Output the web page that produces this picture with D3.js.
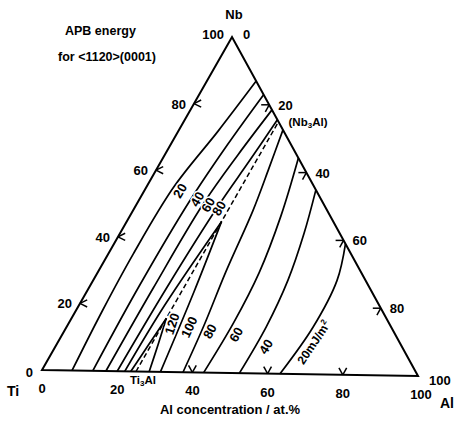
<!DOCTYPE html>
<html><head><meta charset="utf-8">
<script src="https://cdn.jsdelivr.net/npm/d3@7"></script>
<style>
html,body{margin:0;padding:0;background:#fff;}
svg text{font-family:"Liberation Sans",Arial,sans-serif;font-weight:bold;fill:#000;}
</style></head>
<body><svg id="c" width="458" height="423"></svg>
<script>
// ---- data (Al %, Nb %) ----
const edgeTicks = [20, 40, 60, 80];
const leftLabels = [0, 20, 40, 60, 80, 100];     // Nb on Ti–Nb edge
const bottomLabels = [0, 20, 40, 60, 80, 100];   // Al on Ti–Al edge
const rightLabels = [0, 20, 40, 60, 80, 100];    // Al on Nb–Al edge

// contour lines of APB energy (mJ/m2), points as [Al, Nb]
const c20L = [[8,0],[7,18],[6.6,35],[7.2,55],[10.5,72],[13,87]];
const c40L = [[13.5,0],[13,25],[13.5,51],[15,68],[17,83]];
const c60L = [[17,0],[17,25],[17.5,50],[19.3,65],[21.5,78.5]];
const c80L = [[20,0],[20.5,25],[21.8,50],[23.2,63],[24.4,75.6]];
const c100Left = [[22,0],[22.6,20],[25,45]];
const c100Right = [[25,45],[28.3,24],[31.5,0]];
const c120Left = [[23.6,0],[24.3,8],[25,16]];
const c120Right = [[25,16],[26.8,8],[28.5,0]];
const c80R = [[37.5,0],[36,14],[33.7,30],[31.6,48.6],[29.5,61],[27.4,72.6]];
const c60R = [[43,0],[43.4,15],[42.6,30],[39.8,47],[35.7,64.3]];
const c40R = [[52.5,0],[52.6,14],[51.3,28],[48.5,42],[45.1,54.9]];
const c20R = [[63.3,0],[65,14],[64.3,28],[61,39]];
const ridge = [[25,0],[25,75]];  // Ti3Al – Nb3Al

// contour labels: text, [Al, Nb], rotation
const contourLabels = [
  ["20", [9.4,54], -60], ["40", [15.2,51.6], -60], ["60", [18.9,50], -60], ["80", [22.3,49], -60],
  ["120", [27.3,14.4], -72], ["100", [32.3,13.5], -65], ["80", [38.4,12.3], -62],
  ["60", [45.8,11.5], -60], ["40", [55.5,8], -58]
];

const T = {Ti:[42,370], Al:[418,376], Nb:[232,37]};
const sA = d3.scaleLinear().domain([0,100]).range([0,1]);
const sN = d3.scaleLinear().domain([0,100]).range([0,1]);
function P(al, nb){
  const a = sA(al), n = sN(nb);
  return [T.Ti[0] + a*(T.Al[0]-T.Ti[0]) + n*(T.Nb[0]-T.Ti[0]),
          T.Ti[1] + a*(T.Al[1]-T.Ti[1]) + n*(T.Nb[1]-T.Ti[1])];
}
const svg = d3.select("#c");
const line = d3.line().x(d=>P(d[0],d[1])[0]).y(d=>P(d[0],d[1])[1]).curve(d3.curveCatmullRom.alpha(0.5));

// triangle
svg.append("path")
  .attr("d", d3.line()([P(0,0),P(100,0),P(0,100)]) + "Z")
  .attr("fill","none").attr("stroke","#000").attr("stroke-width",2).attr("stroke-linejoin","miter");

// contours
[c20L,c40L,c60L,c80L,c100Left,c100Right,c120Left,c120Right,c80R,c60R,c40R,c20R].forEach(c=>{
  svg.append("path").attr("d", line(c)).attr("fill","none").attr("stroke","#000").attr("stroke-width",1.7);
});
svg.append("path").attr("d", d3.line()(ridge.map(d=>P(d[0],d[1]))))
  .attr("fill","none").attr("stroke","#000").attr("stroke-width",1.5).attr("stroke-dasharray","5,3");

// ticks (short strokes)
const tl = 8;
function stroke(p, dx, dy){
  const L = Math.hypot(dx,dy);
  svg.append("line").attr("x1",p[0]).attr("y1",p[1]).attr("x2",p[0]+dx/L*tl).attr("y2",p[1]+dy/L*tl)
    .attr("stroke","#000").attr("stroke-width",1.5);
}
edgeTicks.forEach(v=>{
  let p = P(0, v);
  stroke(p, 1, -0.5); stroke(p, 1, 0.5);
  if (v !== 20) { p = P(v, 0); stroke(p, -0.55, -1); stroke(p, 0.55, -1); }
  p = P(v, 100 - v); stroke(p, -1, 0); stroke(p, -0.5, 0.9);
});

const FS = 13;
// edge labels
leftLabels.forEach(v=>{
  const p = P(0, v);
  let x = p[0]-8, y = p[1]+5;
  if (v===100){ x = p[0]-8; y = p[1]+2; }
  if (v===0){ x = p[0]-9; y = p[1]+7; }
  svg.append("text").attr("x",x).attr("y",y).attr("text-anchor","end").attr("font-size",FS).text(v);
});
bottomLabels.forEach(v=>{
  const p = P(v, 0);
  svg.append("text").attr("x",p[0]+(v===100?3:0)).attr("y",p[1]+23).attr("text-anchor","middle").attr("font-size",FS).text(v);
});
rightLabels.forEach(v=>{
  const p = P(v, 100-v);
  let x = p[0]+9, y = p[1]+5;
  if (v===0){ x = p[0]+11; y = p[1]+2; }
  if (v===100){ x = p[0]+11; y = p[1]+9; }
  svg.append("text").attr("x",x).attr("y",y).attr("text-anchor","start").attr("font-size",FS).text(v);
});

// vertex names
svg.append("text").attr("x",P(0,100)[0]+2).attr("y",P(0,100)[1]-18).attr("text-anchor","middle").attr("font-size",13).text("Nb");
svg.append("text").attr("x",7).attr("y",396).attr("font-size",14).text("Ti");
svg.append("text").attr("x",440).attr("y",408).attr("font-size",14).text("Al");

// titles
svg.append("text").attr("x",65).attr("y",35).attr("font-size",12.5).text("APB energy");
svg.append("text").attr("x",58).attr("y",61).attr("font-size",12.5).text("for <1120>(0001)");
svg.append("text").attr("x",230).attr("y",414).attr("text-anchor","middle").attr("font-size",13).text("Al concentration / at.%");

// phase labels
const p3 = P(25,0);
const t1 = svg.append("text").attr("x",p3[0]-6).attr("y",p3[1]+12).attr("font-size",11.5);
t1.append("tspan").text("Ti");
t1.append("tspan").attr("font-size",8).attr("dy",2).text("3");
t1.append("tspan").attr("dy",-2).text("Al");
const p4 = P(25,75);
const t2 = svg.append("text").attr("x",p4[0]+10).attr("y",p4[1]+4).attr("font-size",11.5);
t2.append("tspan").text("(Nb");
t2.append("tspan").attr("font-size",8).attr("dy",2).text("3");
t2.append("tspan").attr("dy",-2).text("Al)");

// contour labels
contourLabels.forEach(([t,pos,r])=>{
  const p = P(pos[0],pos[1]);
  svg.append("text").attr("transform",`translate(${p[0]},${p[1]}) rotate(${r})`)
    .attr("text-anchor","middle").attr("dy","0.35em").attr("font-size",13)
    .attr("stroke","#fff").attr("stroke-width",3).attr("paint-order","stroke").text(t);
});
const p20 = P(67.5,9.5);
const t3 = svg.append("text").attr("transform",`translate(${p20[0]},${p20[1]}) rotate(-56)`)
  .attr("text-anchor","middle").attr("dy","0.35em").attr("font-size",12)
  .attr("stroke","#fff").attr("stroke-width",3).attr("paint-order","stroke");
t3.append("tspan").text("20mJ/m");
t3.append("tspan").attr("font-size",8).attr("dy",-5).text("2");
</script></body></html>
